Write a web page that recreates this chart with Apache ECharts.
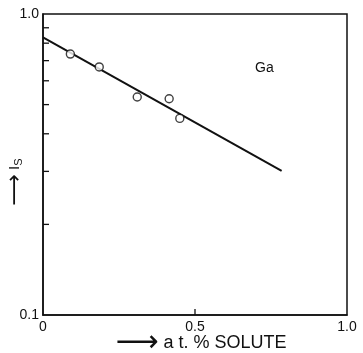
<!DOCTYPE html>
<html>
<head>
<meta charset="utf-8">
<style>html,body{margin:0;padding:0;background:#fff}#c{width:363px;height:353px}</style>
<script src="https://cdn.jsdelivr.net/npm/echarts@6/dist/echarts.min.js"></script>
</head>
<body>
<div id="c"></div>
<script>
// Measured points (at.% solute, I_s)
const soluteX = [0.09, 0.185, 0.31, 0.415, 0.45];
const intensityY = [0.736, 0.667, 0.53, 0.523, 0.45];
// Fitted line end points
const fitX = [0, 0.785];
const fitY = [0.837, 0.301];
// Axis ticks
const xTickLabels = [0, 0.5, 1.0];
const xTickMarks = [0.5];
const yTickValues = [0.2, 0.3, 0.4, 0.5, 0.6, 0.7, 0.8, 0.9];
const yTickLabels = [0.1, 1.0];
const annotation = 'Ga';
const xTitle = 'a t. % SOLUTE';
const yTitle = 'I';
const yTitleSub = 'S';

const chart = echarts.init(document.getElementById('c'));
const font = 'Liberation Sans, Arial, sans-serif';
const ink = '#111';
chart.setOption({
  animation: false,
  backgroundColor: '#fff',
  grid: { left: 43, right: 16, top: 14, bottom: 38, outerBoundsMode: 'none', containLabel: false,
    show: true, borderColor: ink, borderWidth: 1.5, backgroundColor: 'transparent' },
  xAxis: {
    type: 'value', min: 0, max: 1, interval: 0.5,
    axisLine: { show: true, lineStyle: { color: ink, width: 1.5 } },
    axisTick: { show: false },
    axisLabel: { fontFamily: font, fontSize: 14, color: ink, margin: 5,
      customValues: xTickLabels, hideOverlap: false,
      formatter: v => v === 0 ? '0' : v.toFixed(1) },
    splitLine: { show: false }
  },
  yAxis: {
    type: 'log', logBase: 10, min: 0.1, max: 1,
    axisLine: { show: true, lineStyle: { color: ink, width: 1.5 } },
    axisTick: { show: false },
    axisLabel: { fontFamily: font, fontSize: 14, color: ink, margin: 4,
      customValues: yTickLabels, hideOverlap: false, formatter: v => v.toFixed(1) },
    splitLine: { show: false }
  },
  graphic: [
    { type: 'text', left: 255, top: 61, style: { text: annotation, font: '14px ' + font, fill: ink } },
    { type: 'text', x: 201, y: 343, silent: true,
      style: { text: '{arr|⟶} ' + xTitle, font: '18px ' + font, fill: ink, align: 'center', verticalAlign: 'middle',
        rich: { arr: { font: '30px DejaVu Sans', fill: ink, lineHeight: 18 } } } },
    { type: 'text', x: 15, y: 182, rotation: Math.PI / 2, silent: true,
      style: { text: '{arr|⟶} ' + yTitle + '{s|' + yTitleSub + '}', font: '15px ' + font, fill: ink,
        align: 'center', verticalAlign: 'middle',
        rich: { arr: { font: '22px DejaVu Sans', fill: ink, lineHeight: 16 },
                s: { font: '11px ' + font, fill: ink, verticalAlign: 'bottom', padding: [7, 0, 0, 0] } } } }
  ],
  series: [
    {
      type: 'custom', data: yTickValues.map(v => [0, v]), encode: { x: 0, y: 1 }, clip: false, silent: true,
      renderItem: (params, api) => {
        const p = api.coord([api.value(0), api.value(1)]);
        return { type: 'line', shape: { x1: p[0], y1: p[1], x2: p[0] + 6, y2: p[1] },
          style: { stroke: ink, lineWidth: 1.3 } };
      }
    },
    {
      type: 'custom', data: xTickMarks.map(v => [v, 0.1]), encode: { x: 0, y: 1 }, clip: false, silent: true,
      renderItem: (params, api) => {
        const p = api.coord([api.value(0), api.value(1)]);
        return { type: 'line', shape: { x1: p[0], y1: p[1], x2: p[0], y2: p[1] - 6 },
          style: { stroke: ink, lineWidth: 1.3 } };
      }
    },
    {
      type: 'line', data: fitX.map((x, i) => [x, fitY[i]]),
      symbol: 'none', lineStyle: { color: ink, width: 2 }
    },
    {
      type: 'scatter', data: soluteX.map((x, i) => [x, intensityY[i]]),
      symbol: 'circle', symbolSize: 8,
      itemStyle: { color: '#fff', borderColor: ink, borderWidth: 1.4 }, z: 5
    }
  ]
});
</script>
</body>
</html>
